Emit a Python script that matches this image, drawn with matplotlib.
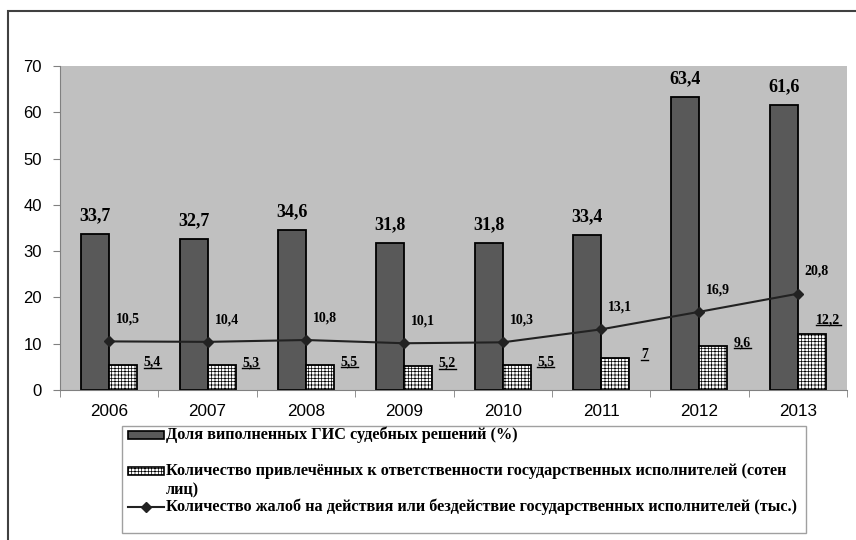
import matplotlib.pyplot as plt
import matplotlib.patches as mpatches
from matplotlib.lines import Line2D
import numpy as np

years = ["2006", "2007", "2008", "2009", "2010", "2011", "2012", "2013"]
share_done = [33.7, 32.7, 34.6, 31.8, 31.8, 33.4, 63.4, 61.6]
held_liable = [5.4, 5.3, 5.5, 5.2, 5.5, 7, 9.6, 12.2]
complaints = [10.5, 10.4, 10.8, 10.1, 10.3, 13.1, 16.9, 20.8]

lbl_share = "Доля виполненных ГИС судебных решений (%)"
lbl_liable = ["Количество привлечённых к ответственности государственных исполнителей (сотен", "лиц)"]
lbl_compl = "Количество жалоб на действия или бездействие государственных исполнителей (тыс.)"

W, H = 856, 540


def fmt(v):
    return f"{v:g}".replace(".", ",")


def fx(px):
    return px / W


def fy(py):
    return 1 - py / H


plt.rcParams["font.family"] = "Liberation Sans"
plt.rcParams["hatch.linewidth"] = 0.5
serif = "Liberation Serif"
dark = "#595959"
hatch = "+++++"

fig = plt.figure(figsize=(W / 100, H / 100), dpi=100)
ax = fig.add_axes([fx(60), fy(390), fx(847) - fx(60), fy(66) - fy(390)])

x = np.arange(len(years))
w = 0.285
ax.bar(x - w / 2, share_done, w, color=dark, edgecolor="black", linewidth=1.3, zorder=2)
ax.bar(x + w / 2, held_liable, w, color="white", edgecolor="black", hatch=hatch,
       linewidth=1.3, zorder=2)
ax.plot(x, complaints, color="#222222", lw=1.5, marker="D", ms=5, zorder=3)

ax.set_facecolor("#c0c0c0")
ax.set_xlim(-0.5, len(years) - 0.5)
ax.set_ylim(0, 70)
ax.set_yticks(range(0, 71, 10))
ax.set_xticks(x)
ax.set_xticklabels(years, fontsize=12.3)
ax.set_xticks(np.arange(-0.5, len(years)), minor=True)
ax.tick_params(axis="x", which="major", length=0, pad=10)
ax.tick_params(axis="x", which="minor", length=5, color="#808080", direction="out")
ax.tick_params(axis="y", labelsize=12, length=5, color="#808080", pad=8)
for s in ["top", "right"]:
    ax.spines[s].set_visible(False)
ax.spines["left"].set_color("#808080")
ax.spines["bottom"].set_color("#808080")

for i, v in enumerate(share_done):
    ax.annotate(fmt(v), (x[i] - w / 2, v), xytext=(0, 7), textcoords="offset points",
                ha="center", va="bottom", fontsize=13, fontweight="bold", family=serif)

for i, v in enumerate(complaints):
    ax.annotate(fmt(v), (x[i], v), xytext=(5, 16), textcoords="offset points",
                ha="left", va="center", fontsize=10, fontweight="bold", family=serif)

liable_texts = []
for i, v in enumerate(held_liable):
    # the last label would run past the plot edge, so it sits above its bar
    off = (12, 10) if i == len(years) - 1 else (21, 2)
    t = ax.annotate(fmt(v), (x[i] + w / 2, v), xytext=off, textcoords="offset points",
                    ha="center", va="center", fontsize=10, fontweight="bold", family=serif)
    liable_texts.append(t)

# legend drawn by hand to keep the original's row layout
fig.patches.append(mpatches.Rectangle((fx(122), fy(533)), fx(806) - fx(122), fy(426) - fy(533),
                                      transform=fig.transFigure, fill=False,
                                      edgecolor="#a0a0a0", lw=1.0))
leg_font = dict(family=serif, fontweight="bold", fontsize=11.7, va="center", ha="left")
rows = [435, 471, 490, 507]
fig.patches.append(mpatches.Rectangle((fx(128), fy(rows[0] + 4)), fx(164) - fx(128), fy(rows[0] - 4) - fy(rows[0] + 4),
                                      transform=fig.transFigure, facecolor=dark,
                                      edgecolor="black", lw=1.2))
fig.patches.append(mpatches.Rectangle((fx(128), fy(rows[1] + 4)), fx(164) - fx(128), fy(rows[1] - 4) - fy(rows[1] + 4),
                                      transform=fig.transFigure, facecolor="white",
                                      edgecolor="black", hatch=hatch, lw=1.2))
fig.add_artist(Line2D([fx(128), fx(164)], [fy(rows[3]), fy(rows[3])], color="#222222", lw=1.5))
fig.add_artist(Line2D([fx(146)], [fy(rows[3])], color="#222222", marker="D", ms=5))
fig.text(fx(166), fy(rows[0]), lbl_share, **leg_font)
fig.text(fx(166), fy(rows[1]), lbl_liable[0], **leg_font)
fig.text(fx(166), fy(rows[2]), lbl_liable[1], **leg_font)
fig.text(fx(166), fy(rows[3]), lbl_compl, **leg_font)

# outer frame
fig.patches.append(mpatches.Rectangle((fx(8), -0.1), 1.1, fy(11) + 0.1,
                                      transform=fig.transFigure, fill=False,
                                      edgecolor="#404040", lw=1.5))

# underline the liable labels
fig.canvas.draw()
r = fig.canvas.get_renderer()
for t in liable_texts:
    bb = t.get_window_extent(r)
    y0 = bb.y0 + 1
    fig.add_artist(Line2D([bb.x0 / W, bb.x1 / W], [y0 / H, y0 / H],
                          transform=fig.transFigure, color="black", lw=1))

fig.savefig("out.png", dpi=100)
